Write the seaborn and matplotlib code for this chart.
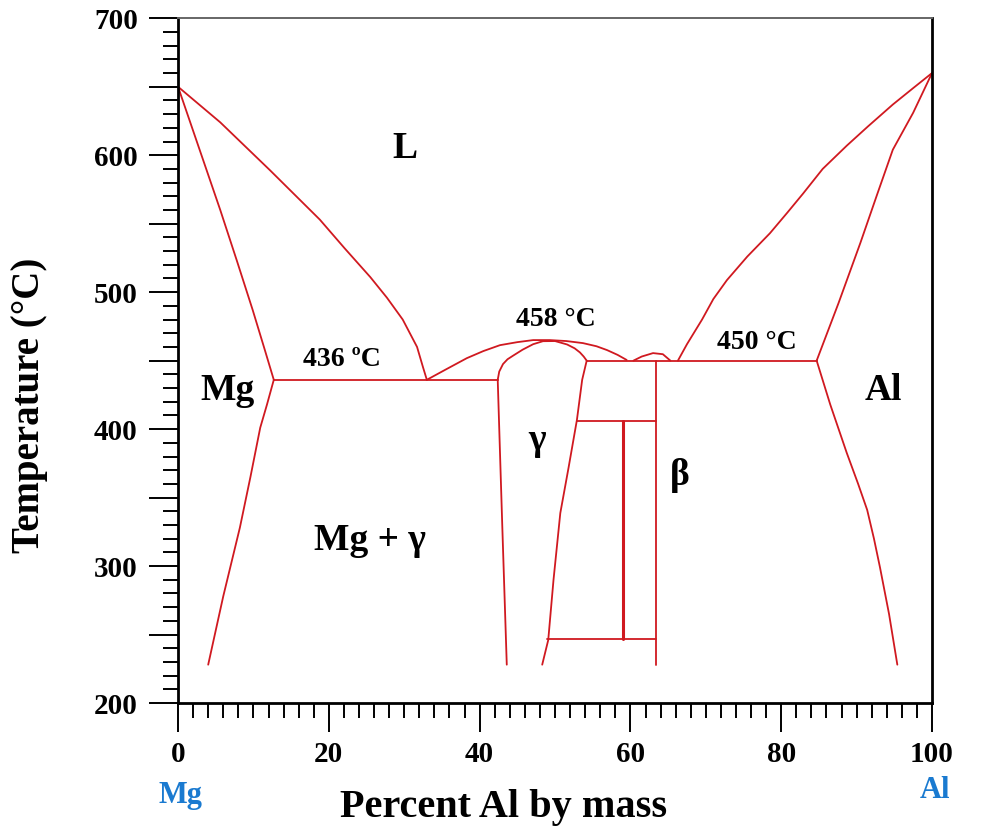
import matplotlib
matplotlib.use("Agg")
import matplotlib.pyplot as plt
import seaborn as sns
import pandas as pd
from matplotlib.ticker import MultipleLocator, FuncFormatter

# ---- data (wt% Al, temperature in °C) ----
mg_liquidus_x = [0, 5.6, 12.2, 15.5, 18.8, 22.1, 25.5, 27.7, 29.8, 31.7, 32.5, 33.0]
mg_liquidus_y = [650, 624, 589, 571, 553, 532, 511, 496, 480, 460, 445, 436]
mg_solidus_x = [0, 2.8, 5.6, 7.8, 9.9, 11.5, 12.7]
mg_solidus_y = [650, 605, 560, 523, 487, 458, 436]
mg_solvus_x = [12.7, 11.8, 10.9, 9.6, 8.2, 6.0, 4.0]
mg_solvus_y = [436, 418, 401, 365, 328, 278, 228]
mg_eutectic_x = [12.7, 42.4]
mg_eutectic_y = [436, 436]
gamma_left_x = [42.4, 43.0, 43.6]
gamma_left_y = [436, 330, 228]
gamma_top_x = [42.4, 42.6, 43.1, 43.7, 44.4, 45.7, 47.1, 48.4, 50.0, 51.6, 52.6, 53.3, 53.8, 54.2]
gamma_top_y = [436, 442, 447.5, 451, 453.5, 458, 462, 464.2, 464.3, 461.8, 459, 456, 453, 450]
mid_liquidus_x = [33.0, 35.5, 38.3, 40.5, 42.7, 45.0, 47.1, 49.3, 51.5, 53.7, 55.5, 56.9, 58.3, 59.5]
mid_liquidus_y = [436, 443.5, 451.8, 457, 461.3, 463.5, 465, 465, 464.3, 462.8, 460.5, 457.7, 454.2, 450.5]
beta_bump_x = [60.4, 61.5, 63.0, 64.3, 65.3]
beta_bump_y = [450, 453, 455.5, 454.7, 450]
al_liquidus_x = [66.3, 67.5, 69.5, 71.0, 72.8, 75.5, 78.5, 80.8, 82.9, 85.5, 88.7, 91.5, 94.8, 97.5, 100]
al_liquidus_y = [450, 462, 480, 495, 508.8, 526, 543, 558, 572, 590, 607, 621, 637, 649, 660]
al_solidus_x = [100, 97.5, 94.8, 92.7, 90.5, 87.6, 84.7]
al_solidus_y = [660, 631, 604, 571, 536, 492, 450]
al_eutectic_x = [54.2, 84.7]
al_eutectic_y = [450, 450]
al_solvus_x = [84.7, 86.5, 88.7, 90.2, 91.4, 92.3, 93.1, 94.3, 95.4]
al_solvus_y = [450, 418, 382.5, 360, 341, 320, 299, 265, 228]
gamma_right_x = [54.2, 53.6, 52.9, 51.8, 50.7, 49.8, 49.1, 48.3]
gamma_right_y = [450, 436, 406.6, 372, 338.7, 290, 246, 228]
beta_right_x = [63.4, 63.4]
beta_right_y = [450, 228]
upper_bar_x = [52.9, 63.4]
upper_bar_y = [406, 406]
lower_bar_x = [48.9, 63.4]
lower_bar_y = [247, 247]
inner_vert_x = [59.0, 59.0]
inner_vert_y = [406, 247]

segments = {
    "mg_liquidus": (mg_liquidus_x, mg_liquidus_y),
    "mg_solidus": (mg_solidus_x, mg_solidus_y),
    "mg_solvus": (mg_solvus_x, mg_solvus_y),
    "mg_eutectic": (mg_eutectic_x, mg_eutectic_y),
    "gamma_left": (gamma_left_x, gamma_left_y),
    "gamma_top": (gamma_top_x, gamma_top_y),
    "mid_liquidus": (mid_liquidus_x, mid_liquidus_y),
    "beta_bump": (beta_bump_x, beta_bump_y),
    "al_liquidus": (al_liquidus_x, al_liquidus_y),
    "al_solidus": (al_solidus_x, al_solidus_y),
    "al_eutectic": (al_eutectic_x, al_eutectic_y),
    "al_solvus": (al_solvus_x, al_solvus_y),
    "gamma_right": (gamma_right_x, gamma_right_y),
    "beta_right": (beta_right_x, beta_right_y),
    "upper_bar": (upper_bar_x, upper_bar_y),
    "lower_bar": (lower_bar_x, lower_bar_y),
}

rows = []
for name, (xs, ys) in segments.items():
    for i, (x, y) in enumerate(zip(xs, ys)):
        rows.append({"seg": name, "order": i, "x": x, "y": y})
df = pd.DataFrame(rows)
df_inner = pd.DataFrame({"seg": "inner", "x": inner_vert_x, "y": inner_vert_y})

sns.set_theme(style="white")
plt.rcParams["font.family"] = ["Liberation Serif", "DejaVu Serif"]
plt.rcParams["font.weight"] = "bold"
plt.rcParams["text.color"] = "black"
plt.rcParams["axes.labelcolor"] = "black"
plt.rcParams["xtick.color"] = "black"
plt.rcParams["ytick.color"] = "black"

RED = "#d01920"
fig = plt.figure(figsize=(9.82, 8.30), dpi=100)
ax = fig.add_axes([0.1813, 0.153, 0.7678, 0.825])

sns.lineplot(data=df, x="x", y="y", units="seg", estimator=None, sort=False,
             color=RED, linewidth=1.3, ax=ax)
sns.lineplot(data=df_inner, x="x", y="y", units="seg", estimator=None, sort=False,
             color=RED, linewidth=2.2, ax=ax)

ax.set_xlim(0, 100)
ax.set_ylim(200, 700)

ax.xaxis.set_major_locator(MultipleLocator(20))
ax.xaxis.set_minor_locator(MultipleLocator(2))
ax.yaxis.set_major_locator(MultipleLocator(50))
ax.yaxis.set_minor_locator(MultipleLocator(10))
ax.yaxis.set_major_formatter(FuncFormatter(lambda v, p: f"{int(v)}" if int(round(v)) % 100 == 0 else ""))

ax.tick_params(axis="both", which="major", direction="out", length=21, width=1.4,
               color="black", labelcolor="black", labelsize=21, bottom=True, left=True)
ax.tick_params(axis="y", which="major", pad=8)
ax.tick_params(axis="x", which="major", pad=6)
ax.tick_params(axis="both", which="minor", direction="out", length=10.5, width=1.4,
               color="black", bottom=True, left=True)
for lab in ax.get_xticklabels() + ax.get_yticklabels():
    lab.set_fontweight("bold")

for side in ["left", "bottom", "right"]:
    ax.spines[side].set_color("black")
    ax.spines[side].set_linewidth(2.0)
ax.spines["top"].set_color("#666666")
ax.spines["top"].set_linewidth(1.4)

ax.set_xlabel("Percent Al by mass", fontsize=29, fontweight="bold", color="black")
ax.set_ylabel("Temperature (°C)", fontsize=28, fontweight="bold", color="black")
ax.xaxis.set_label_coords(0.432, -0.125)
ax.yaxis.set_label_coords(-0.172, 0.435)

tk = dict(fontweight="bold", ha="center", va="center", color="black")
ax.text(30.1, 605, "L", fontsize=27, **tk)
ax.text(21.8, 451, "436 ºC", fontsize=20, **tk)
ax.text(50.1, 480, "458 °C", fontsize=20, **tk)
ax.text(76.8, 463, "450 °C", fontsize=20, **tk)
ax.text(6.6, 428, "Mg", fontsize=27, **tk)
ax.text(93.6, 428, "Al", fontsize=27, **tk)
ax.text(47.6, 392, "γ", fontsize=27, **tk)
ax.text(66.6, 366, "β", fontsize=27, **tk)
ax.text(25.5, 319, "Mg + γ", fontsize=27, **tk)

BLUE = "#1a7ad0"
fig.text(180 / 982, 1 - 795 / 830, "Mg", fontsize=22, fontweight="bold",
         color=BLUE, ha="center", va="center")
fig.text(935 / 982, 1 - 790 / 830, "Al", fontsize=22, fontweight="bold",
         color=BLUE, ha="center", va="center")

fig.savefig("out.png", dpi=100, facecolor="white")
